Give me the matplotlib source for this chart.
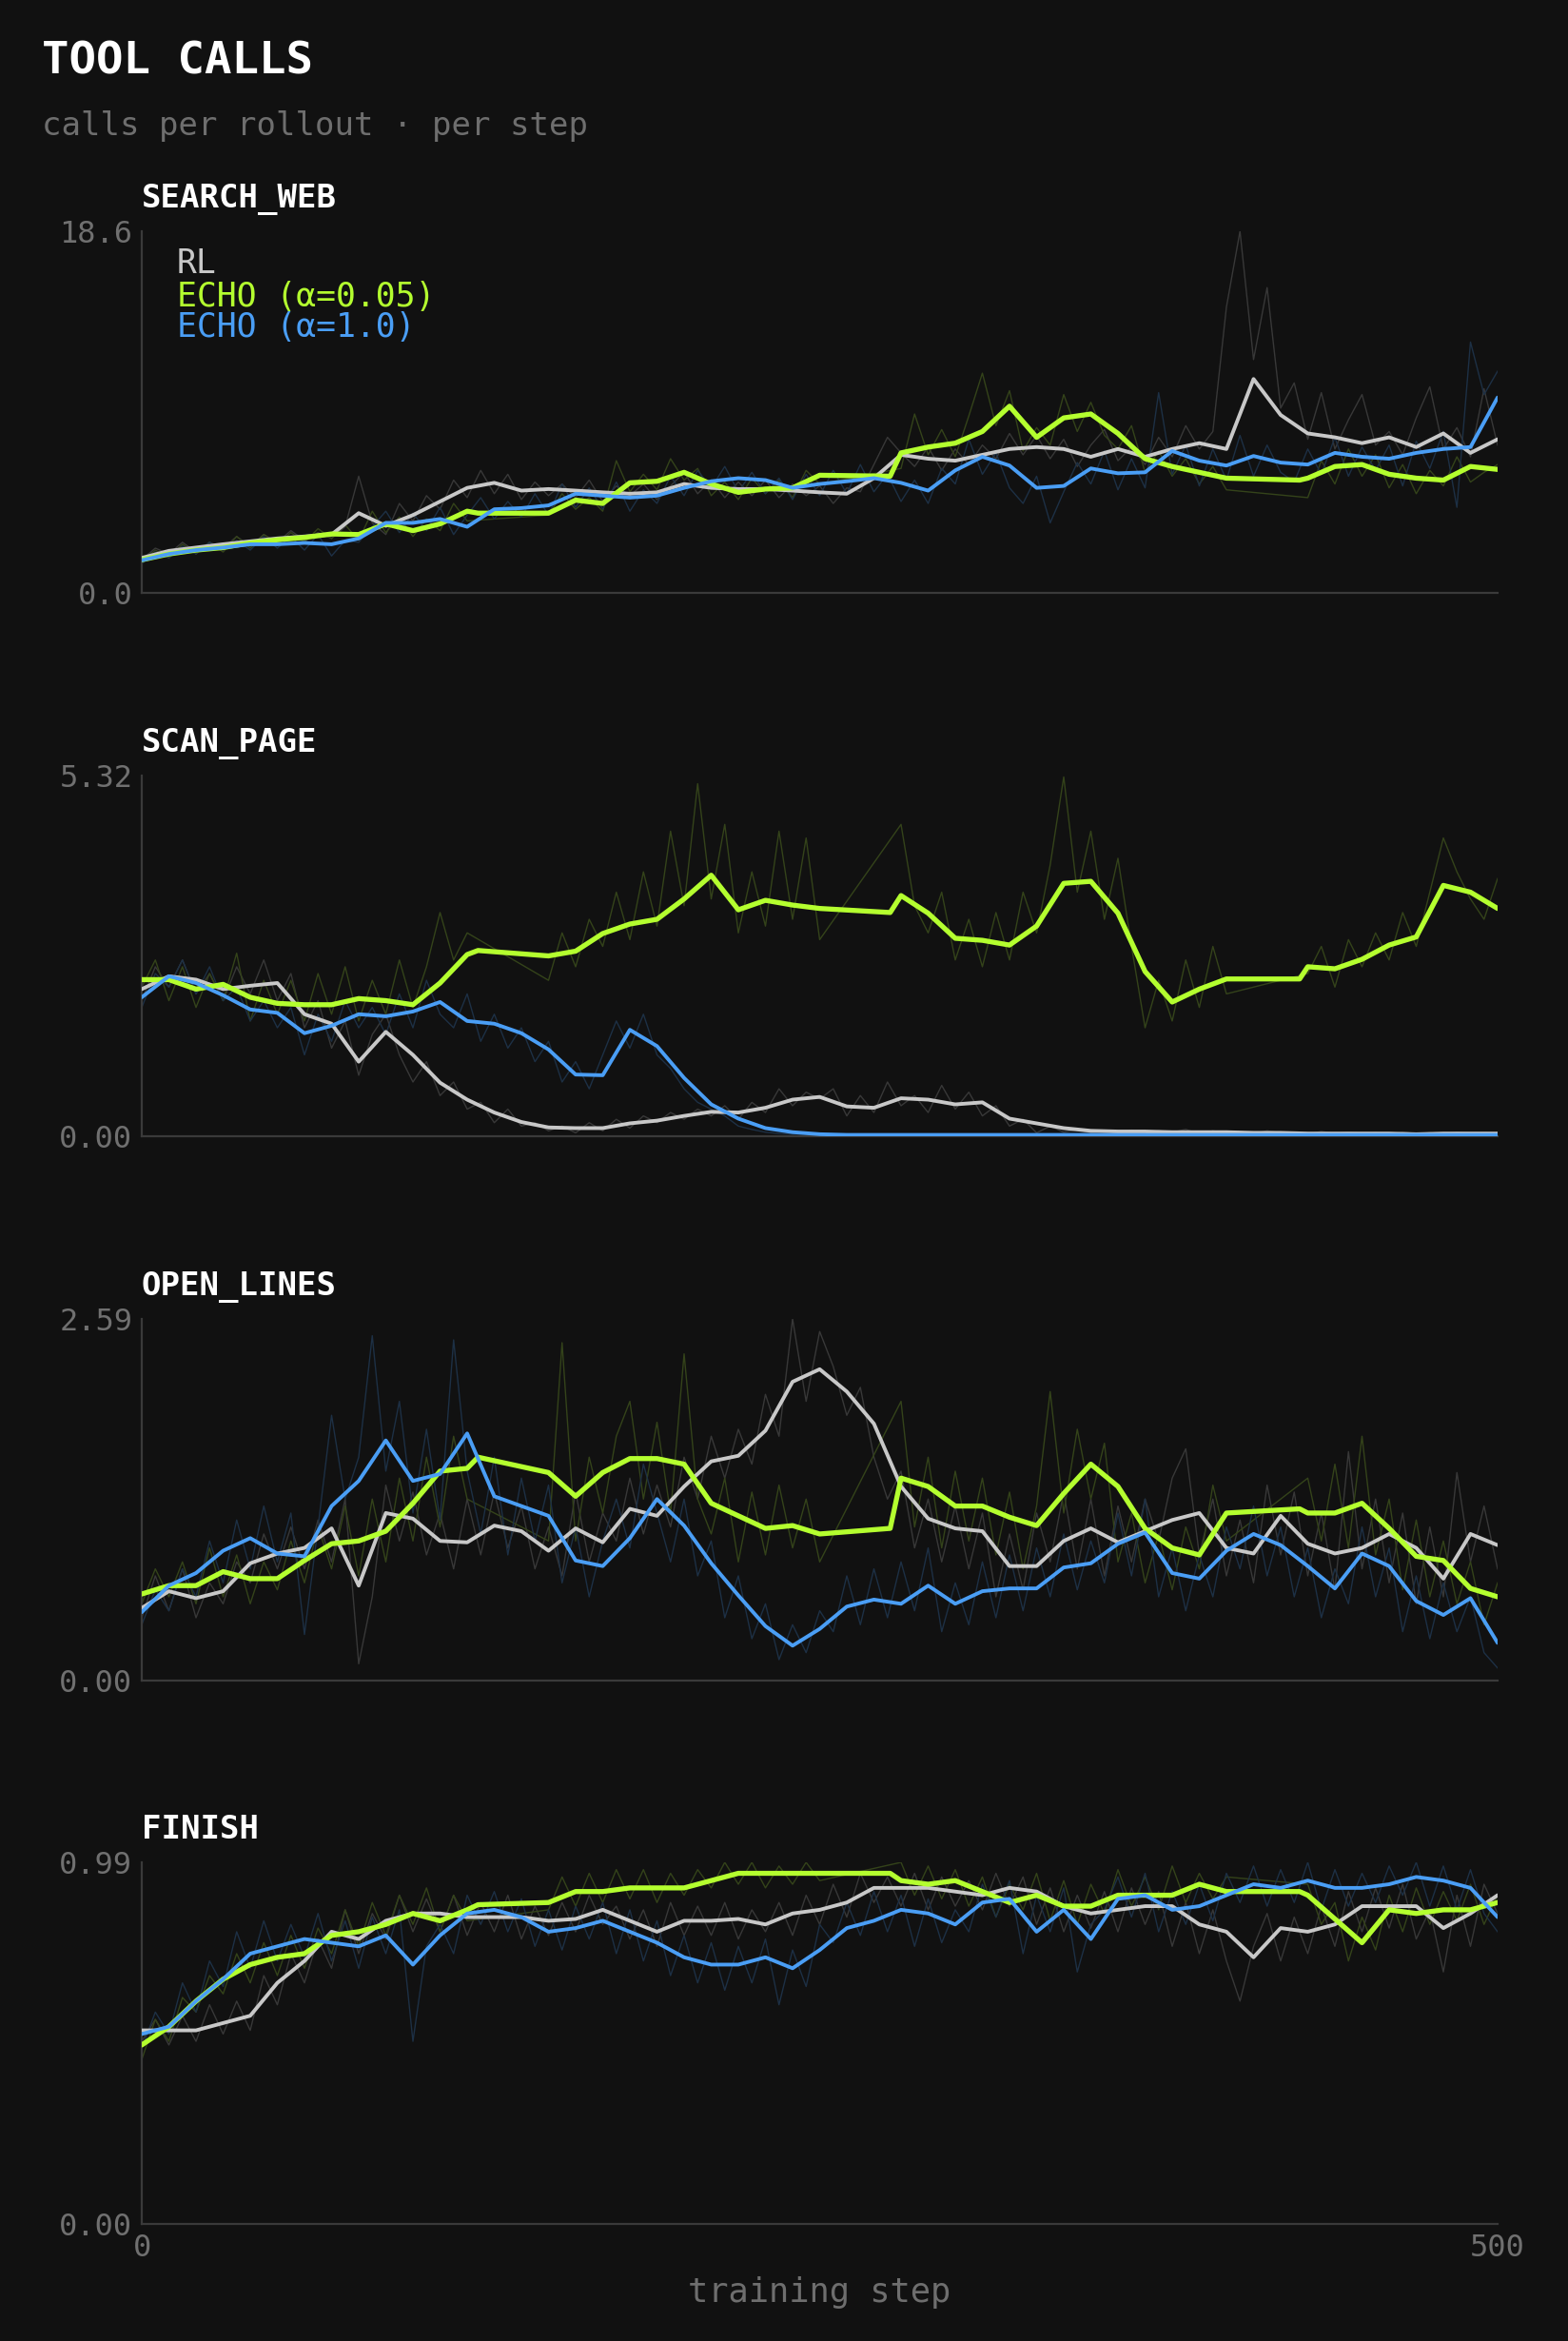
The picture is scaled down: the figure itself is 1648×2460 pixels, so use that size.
import matplotlib
matplotlib.use("Agg")
import matplotlib.pyplot as plt
import numpy as np

nan = np.nan

# x grids (training step)
STEPS = np.arange(0, 501, 10)        # smoothed curves RL / ECHO a=1.0
RAW_STEPS = np.arange(0, 501, 5)     # per-step values (sampled every 5)
# ECHO (a=0.05) is missing some steps, its smoothed curve lives on these
E05_STEPS = [0, 10, 20, 30, 40, 50, 60, 70, 80, 90, 100, 110, 120, 124,
             150, 160, 170, 180, 190, 200, 210, 220, 230, 240, 250, 276,
             280, 290, 300, 310, 320, 330, 340, 350, 360, 370, 380, 390, 400, 427,
             430, 440, 450, 460, 470, 480, 490, 500]

PANELS = ["SEARCH_WEB", "SCAN_PAGE", "OPEN_LINES", "FINISH"]
Y_MAX = [18.6, 5.32, 2.59, 0.99]
Y_LABELS = [["0.0", "18.6"], ["0.00", "5.32"], ["0.00", "2.59"], ["0.00", "0.99"]]
SERIES = ["RL", "ECHO (α=0.05)", "ECHO (α=1.0)"]

# ---- search_web ----
search_rl = [1.8, 2.16, 2.33, 2.5, 2.65, 2.8, 2.9, 3.0, 4.1, 3.45,
             4.0, 4.7, 5.4, 5.66, 5.26, 5.34, 5.26, 5.17, 5.1, 5.17,
             5.6, 5.4, 5.34, 5.34, 5.26, 5.17, 5.1, 5.9, 7.1, 6.9,
             6.8, 7.1, 7.4, 7.5, 7.4, 7.0, 7.4, 7.0, 7.4, 7.7,
             7.4, 11.0, 9.15, 8.2, 8.0, 7.7, 8.0, 7.5, 8.2, 7.2, 7.9]
search_rl_raw = [1.7, 2.3, 2.0, 2.6, 2.1, 2.6, 2.3, 2.9, 2.4, 3.0, 2.6,
                 3.2, 2.7, 3.1, 2.8, 3.4, 6.0, 3.6, 3.0, 4.6, 3.7,
                 5.0, 4.3, 5.8, 4.9, 6.3, 5.1, 6.1, 4.8, 5.7, 5.0,
                 5.6, 4.9, 5.8, 4.7, 5.5, 5.0, 5.6, 4.8, 5.5, 6.2,
                 5.1, 5.8, 4.9, 5.7, 5.0, 5.8, 4.9, 5.6, 5.0, 5.5,
                 4.6, 5.4, 5.2, 6.6, 8.0, 7.2, 6.5, 7.5, 6.3, 7.4,
                 6.6, 7.6, 6.9, 8.2, 7.1, 8.1, 6.9, 7.9, 6.5, 7.6,
                 8.4, 6.8, 7.5, 6.6, 8.0, 7.0, 8.6, 7.4, 8.3, 14.7,
                 18.6, 12.0, 15.7, 9.5, 10.8, 7.9, 10.3, 7.4, 8.9, 10.2,
                 7.6, 8.3, 7.1, 9.0, 10.6, 7.4, 8.5, 7.0, 10.5, 7.6]
search_e05 = [1.7, 2.0, 2.2, 2.33, 2.57, 2.73, 2.85, 3.03, 3.0, 3.55,
              3.2, 3.55, 4.2, 4.1, 4.1, 4.77, 4.6, 5.66, 5.74, 6.2,
              5.6, 5.17, 5.34, 5.4, 6.05, 6.0, 7.2, 7.5, 7.7, 8.3,
              9.6, 8.0, 9.0, 9.2, 8.2, 6.9, 6.5, 6.2, 5.9, 5.8,
              5.9, 6.5, 6.6, 6.1, 5.9, 5.8, 6.5, 6.35]
search_e05_raw = [1.6, 2.2, 1.8, 2.5, 2.0, 2.6, 2.1, 2.9, 2.3, 3.0, 2.5,
                  3.1, 2.6, 3.3, 2.8, 3.5, 2.7, 4.2, 3.1, 3.9, 2.9,
                  3.8, 3.2, 4.6, 3.7, nan, nan, nan, nan, nan, 4.0,
                  5.1, 4.3, 4.9, 4.2, 6.8, 5.2, 6.1, 5.3, 6.9, 5.8,
                  6.4, 5.0, 5.7, 4.8, 5.9, 5.1, 5.8, 4.9, 6.3, 5.6,
                  nan, nan, nan, nan, nan, 6.4, 9.2, 7.1, 8.4, 7.0,
                  9.1, 11.3, 8.6, 10.4, 7.3, 8.5, 7.6, 10.2, 8.3, 9.8,
                  8.1, 7.4, 8.6, 6.2, 7.3, 6.0, 6.9, 5.6, 6.5, 5.3,
                  nan, nan, nan, nan, nan, 4.9, 6.8, 5.6, 7.4, 6.0,
                  7.1, 5.4, 6.6, 5.1, 6.3, 5.5, 7.0, 5.7, 6.2, 6.6]
search_e10 = [1.68, 2.0, 2.2, 2.33, 2.5, 2.5, 2.57, 2.5, 2.8, 3.6,
              3.6, 3.8, 3.4, 4.3, 4.36, 4.5, 5.1, 5.0, 4.9, 5.0,
              5.4, 5.74, 5.9, 5.8, 5.4, 5.6, 5.74, 5.9, 5.66, 5.26,
              6.3, 7.0, 6.55, 5.4, 5.5, 6.4, 6.15, 6.2, 7.3, 6.8,
              6.55, 7.04, 6.7, 6.6, 7.2, 7.0, 6.9, 7.2, 7.4, 7.5, 10.05]
search_e10_raw = [1.5, 2.1, 1.8, 2.4, 2.0, 2.6, 2.2, 2.7, 2.2, 2.9, 2.3,
                  2.9, 2.2, 3.0, 1.9, 2.7, 2.6, 3.4, 4.2, 3.1, 4.1,
                  3.2, 4.4, 3.0, 4.0, 4.9, 3.8, 4.7, 3.9, 5.1, 4.0,
                  5.6, 4.4, 5.4, 4.3, 5.7, 4.2, 5.3, 4.6, 6.0, 5.0,
                  6.3, 5.4, 6.5, 5.2, 6.2, 5.1, 5.9, 4.8, 6.1, 5.0,
                  6.3, 5.1, 6.6, 5.2, 6.1, 4.7, 5.8, 4.6, 6.4, 5.6,
                  7.9, 6.1, 7.2, 5.4, 4.6, 6.0, 3.6, 5.2, 6.7, 5.6,
                  7.3, 5.3, 6.9, 5.4, 10.3, 6.1, 7.6, 5.5, 7.4, 5.8,
                  8.1, 6.0, 7.6, 6.2, 5.7, 7.4, 6.1, 8.0, 6.0, 7.5,
                  6.3, 7.6, 5.5, 7.8, 6.4, 8.3, 4.4, 12.9, 10.2, 11.4]

# ---- scan_page ----
scan_rl = [2.17, 2.36, 2.31, 2.17, 2.22, 2.26, 1.8, 1.66, 1.1, 1.54,
           1.2, 0.79, 0.54, 0.35, 0.21, 0.13, 0.12, 0.12, 0.19, 0.23,
           0.3, 0.36, 0.35, 0.42, 0.54, 0.58, 0.44, 0.42, 0.56, 0.54,
           0.47, 0.5, 0.26, 0.19, 0.12, 0.08, 0.07, 0.07, 0.06, 0.06,
           0.06, 0.05, 0.05, 0.04, 0.04, 0.04, 0.04, 0.03, 0.04, 0.04, 0.04]
scan_rl_raw = [2.0, 2.5, 2.2, 2.6, 2.1, 2.4, 2.0, 2.5, 2.1, 2.6, 2.0,
               2.4, 1.6, 2.0, 1.3, 1.7, 0.9, 1.5, 1.8, 1.2, 0.8,
               1.1, 0.6, 0.8, 0.4, 0.5, 0.2, 0.4, 0.15, 0.2, 0.08,
               0.15, 0.05, 0.2, 0.08, 0.25, 0.12, 0.3, 0.2, 0.35, 0.25,
               0.4, 0.3, 0.45, 0.25, 0.5, 0.35, 0.7, 0.45, 0.65, 0.55,
               0.7, 0.3, 0.6, 0.35, 0.8, 0.45, 0.6, 0.35, 0.75, 0.4,
               0.65, 0.3, 0.45, 0.15, 0.25, 0.05, 0.15, 0.06, 0.1, 0.05,
               0.08, 0.04, 0.09, 0.05, 0.08, 0.06, 0.1, 0.04, 0.08, 0.05,
               0.07, 0.04, 0.08, 0.05, 0.06, 0.03, 0.07, 0.04, 0.06, 0.04,
               0.05, 0.03, 0.06, 0.04, 0.05, 0.03, 0.06, 0.04, 0.05, 0.04]
scan_e05 = [2.31, 2.31, 2.17, 2.24, 2.05, 1.96, 1.94, 1.94, 2.03, 2.0,
            1.94, 2.26, 2.68, 2.74, 2.66, 2.73, 2.99, 3.13, 3.2, 3.5,
            3.85, 3.34, 3.48, 3.41, 3.36, 3.3, 3.55, 3.29, 2.92, 2.89,
            2.82, 3.1, 3.73, 3.76, 3.29, 2.43, 1.98, 2.17, 2.32, 2.32,
            2.5, 2.47, 2.61, 2.82, 2.94, 3.7, 3.6, 3.36]
scan_e05_raw = [2.2, 2.6, 2.0, 2.5, 1.9, 2.4, 2.0, 2.7, 1.7, 2.3, 1.8,
                2.3, 1.7, 2.4, 1.8, 2.5, 1.7, 2.3, 1.8, 2.6, 1.9,
                2.5, 3.3, 2.6, 3.0, nan, nan, nan, nan, nan, 2.3,
                3.0, 2.5, 3.2, 2.8, 3.6, 2.9, 3.9, 3.1, 4.5, 3.4,
                5.2, 3.5, 4.6, 3.0, 3.9, 3.1, 4.5, 3.2, 4.4, 2.9,
                nan, nan, nan, nan, nan, 4.6, 3.4, 3.0, 3.6, 2.6,
                3.2, 2.5, 3.3, 2.6, 3.6, 3.0, 4.0, 5.3, 3.6, 4.5,
                3.2, 4.1, 2.8, 1.6, 2.3, 1.7, 2.6, 1.9, 2.8, 2.1,
                nan, nan, nan, nan, nan, 2.4, 2.8, 2.2, 2.9, 2.5,
                3.0, 2.6, 3.3, 2.8, 3.6, 4.4, 3.9, 3.5, 3.2, 3.8]
scan_e10 = [2.05, 2.36, 2.26, 2.08, 1.87, 1.82, 1.52, 1.63, 1.8, 1.77,
            1.84, 1.98, 1.7, 1.66, 1.52, 1.28, 0.91, 0.9, 1.57, 1.33,
            0.86, 0.47, 0.26, 0.12, 0.06, 0.03, 0.02, 0.02, 0.02, 0.02,
            0.02, 0.02, 0.02, 0.02, 0.02, 0.02, 0.02, 0.02, 0.02, 0.02,
            0.02, 0.02, 0.02, 0.02, 0.02, 0.02, 0.02, 0.02, 0.02, 0.02, 0.02]
scan_e10_raw = [1.9, 2.4, 2.2, 2.6, 2.1, 2.5, 2.0, 2.2, 1.7, 2.0, 1.6,
                1.9, 1.2, 1.8, 1.4, 2.0, 1.6, 1.9, 1.5, 2.1, 1.6,
                2.3, 1.8, 1.6, 2.1, 1.4, 1.8, 1.3, 1.6, 1.1, 1.4,
                0.8, 1.1, 0.7, 1.2, 1.7, 1.3, 1.8, 1.2, 1.0, 0.7,
                0.5, 0.4, 0.3, 0.15, 0.1, 0.06, 0.04, 0.03, 0.03, 0.02,
                0.02, 0.03, 0.02, 0.02, 0.03, 0.02, 0.02, 0.03, 0.02, 0.02,
                0.03, 0.02, 0.02, 0.03, 0.02, 0.02, 0.03, 0.02, 0.02, 0.03,
                0.02, 0.02, 0.03, 0.02, 0.02, 0.03, 0.02, 0.02, 0.03, 0.02,
                0.02, 0.03, 0.02, 0.02, 0.03, 0.02, 0.02, 0.03, 0.02, 0.02,
                0.03, 0.02, 0.02, 0.03, 0.02, 0.02, 0.03, 0.02, 0.02, 0.02]

# ---- open_lines ----
open_rl = [0.52, 0.64, 0.59, 0.64, 0.84, 0.91, 0.95, 1.09, 0.68, 1.2,
           1.16, 1.0, 0.99, 1.11, 1.07, 0.93, 1.09, 0.99, 1.23, 1.18,
           1.39, 1.57, 1.61, 1.79, 2.14, 2.23, 2.07, 1.84, 1.39, 1.16,
           1.09, 1.07, 0.82, 0.82, 1.0, 1.09, 0.99, 1.07, 1.15, 1.2,
           0.95, 0.91, 1.18, 0.98, 0.91, 0.95, 1.05, 0.95, 0.73, 1.05, 0.97]
open_rl_raw = [0.45, 0.75, 0.5, 0.8, 0.45, 0.7, 0.55, 0.85, 0.7, 1.05, 0.8,
               1.1, 0.8, 1.15, 0.85, 1.3, 0.12, 0.6, 1.4, 1.0, 1.35,
               0.9, 1.2, 0.8, 1.3, 0.9, 1.35, 0.95, 1.25, 0.8, 1.1,
               0.75, 1.35, 0.85, 1.2, 1.0, 1.45, 1.05, 1.4, 1.1, 1.6,
               1.3, 1.75, 1.45, 1.8, 1.55, 2.05, 1.75, 2.59, 2.0, 2.5,
               2.25, 1.9, 2.1, 1.6, 1.3, 1.5, 0.95, 1.3, 0.85, 1.25,
               0.8, 1.2, 0.6, 1.05, 0.65, 1.2, 0.85, 1.35, 0.8, 1.3,
               0.75, 1.25, 0.85, 1.3, 1.0, 1.45, 1.66, 0.9, 1.3, 0.75,
               1.15, 0.7, 1.4, 0.9, 1.35, 0.75, 1.2, 0.65, 1.64, 0.8,
               1.3, 0.7, 1.2, 0.55, 1.1, 0.6, 1.49, 0.85, 1.25, 0.8]
open_e05 = [0.62, 0.68, 0.68, 0.78, 0.73, 0.73, 0.86, 0.98, 1.0, 1.07,
            1.27, 1.5, 1.52, 1.6, 1.49, 1.32, 1.49, 1.59, 1.59, 1.55,
            1.27, 1.18, 1.09, 1.11, 1.05, 1.09, 1.45, 1.39, 1.25, 1.25,
            1.17, 1.11, 1.34, 1.55, 1.39, 1.09, 0.95, 0.9, 1.2, 1.23,
            1.2, 1.2, 1.27, 1.09, 0.89, 0.86, 0.66, 0.6]
open_e05_raw = [0.55, 0.8, 0.6, 0.85, 0.55, 0.95, 0.6, 0.9, 0.55, 0.85, 0.65,
                1.0, 0.7, 1.1, 0.8, 1.25, 0.75, 1.3, 0.85, 1.45, 1.0,
                1.6, 1.1, 1.75, 1.3, nan, nan, nan, nan, nan, 1.0,
                2.42, 1.0, 1.6, 1.2, 1.75, 2.0, 1.3, 1.85, 1.2, 2.34,
                1.3, 1.05, 1.45, 0.85, 1.35, 0.9, 1.4, 0.95, 1.3, 0.85,
                nan, nan, nan, nan, nan, 2.0, 1.1, 1.6, 0.95, 1.5,
                1.0, 1.45, 0.9, 1.35, 0.8, 1.25, 2.07, 1.2, 1.8, 1.3,
                1.7, 0.85, 1.2, 0.7, 1.05, 0.65, 1.1, 0.8, 1.4, 1.0,
                nan, nan, nan, nan, nan, 1.45, 1.0, 1.55, 0.95, 1.75,
                0.9, 1.3, 0.65, 1.15, 0.6, 1.0, 0.55, 0.85, 0.4, 0.7]
open_e10 = [0.49, 0.68, 0.77, 0.93, 1.02, 0.91, 0.89, 1.25, 1.43, 1.72,
            1.43, 1.48, 1.77, 1.32, 1.25, 1.18, 0.86, 0.82, 1.02, 1.3,
            1.11, 0.84, 0.61, 0.39, 0.25, 0.37, 0.53, 0.58, 0.55, 0.68,
            0.55, 0.64, 0.66, 0.66, 0.81, 0.84, 0.98, 1.06, 0.77, 0.73,
            0.93, 1.05, 0.97, 0.82, 0.66, 0.91, 0.82, 0.57, 0.47, 0.59, 0.27]
open_e10_raw = [0.4, 0.65, 0.5, 0.8, 0.6, 1.0, 0.7, 1.15, 0.8, 1.25, 0.85,
                1.2, 0.33, 1.1, 1.9, 1.3, 1.6, 2.47, 1.5, 2.0, 1.2,
                1.8, 1.15, 2.44, 1.5, 1.05, 1.6, 0.9, 1.45, 1.0, 1.4,
                0.7, 1.1, 0.6, 1.0, 1.3, 0.95, 1.55, 1.2, 0.85, 1.3,
                0.75, 1.0, 0.45, 0.75, 0.3, 0.55, 0.15, 0.4, 0.2, 0.5,
                0.35, 0.75, 0.4, 0.8, 0.45, 0.85, 0.5, 0.95, 0.35, 0.7,
                0.4, 0.85, 0.45, 0.9, 0.5, 0.95, 0.6, 1.05, 0.65, 1.0,
                0.7, 1.2, 0.75, 1.3, 0.6, 0.95, 0.5, 0.9, 0.6, 1.1,
                0.8, 1.25, 0.75, 1.1, 0.6, 0.95, 0.45, 0.8, 0.55, 1.1,
                0.6, 0.95, 0.35, 0.75, 0.3, 0.7, 0.35, 0.6, 0.2, 0.09]

# ---- finish ----
finish_rl = [0.53, 0.53, 0.53, 0.55, 0.57, 0.66, 0.72, 0.8, 0.78, 0.83,
             0.85, 0.85, 0.84, 0.84, 0.84, 0.83, 0.835, 0.86, 0.83, 0.8,
             0.83, 0.83, 0.835, 0.82, 0.85, 0.86, 0.88, 0.92, 0.92, 0.92,
             0.91, 0.9, 0.92, 0.91, 0.87, 0.85, 0.86, 0.87, 0.87, 0.82,
             0.8, 0.73, 0.81, 0.8, 0.82, 0.87, 0.87, 0.87, 0.81, 0.85, 0.9]
finish_rl_raw = [0.5, 0.56, 0.49, 0.57, 0.5, 0.6, 0.52, 0.61, 0.53, 0.68, 0.6,
                 0.74, 0.66, 0.78, 0.7, 0.86, 0.74, 0.85, 0.78, 0.9, 0.8,
                 0.89, 0.8, 0.9, 0.79, 0.88, 0.8, 0.9, 0.78, 0.87, 0.79,
                 0.88, 0.8, 0.9, 0.82, 0.87, 0.78, 0.86, 0.76, 0.88, 0.79,
                 0.87, 0.79, 0.88, 0.78, 0.86, 0.8, 0.88, 0.79, 0.9, 0.82,
                 0.93, 0.84, 0.96, 0.88, 0.95, 0.87, 0.96, 0.86, 0.95, 0.87,
                 0.94, 0.86, 0.96, 0.87, 0.95, 0.82, 0.92, 0.8, 0.9, 0.81,
                 0.91, 0.8, 0.92, 0.82, 0.91, 0.76, 0.88, 0.74, 0.86, 0.72,
                 0.61, 0.76, 0.85, 0.72, 0.84, 0.74, 0.87, 0.76, 0.91, 0.8,
                 0.92, 0.81, 0.93, 0.78, 0.86, 0.69, 0.9, 0.76, 0.93, 0.85]
finish_e05 = [0.49, 0.54, 0.61, 0.67, 0.71, 0.73, 0.74, 0.79, 0.8, 0.82,
              0.85, 0.83, 0.86, 0.874, 0.88, 0.91, 0.91, 0.92, 0.92, 0.92,
              0.94, 0.96, 0.96, 0.96, 0.96, 0.96, 0.94, 0.93, 0.94, 0.91,
              0.88, 0.9, 0.87, 0.87, 0.9, 0.9, 0.9, 0.93, 0.91, 0.91,
              0.9, 0.835, 0.77, 0.86, 0.85, 0.86, 0.86, 0.88]
finish_e05_raw = [0.45, 0.56, 0.5, 0.62, 0.58, 0.68, 0.63, 0.74, 0.66, 0.77, 0.68,
                  0.79, 0.7, 0.81, 0.74, 0.86, 0.76, 0.88, 0.79, 0.9, 0.82,
                  0.92, 0.8, 0.9, 0.83, nan, nan, nan, nan, nan, 0.86,
                  0.95, 0.87, 0.96, 0.88, 0.97, 0.89, 0.97, 0.88, 0.96, 0.9,
                  0.97, 0.92, 0.99, 0.93, 0.99, 0.92, 0.98, 0.93, 0.99, 0.94,
                  nan, nan, nan, nan, nan, 0.99, 0.9, 0.98, 0.89, 0.97,
                  0.87, 0.95, 0.84, 0.93, 0.86, 0.96, 0.83, 0.94, 0.82, 0.93,
                  0.85, 0.97, 0.87, 0.95, 0.86, 0.98, 0.88, 0.96, 0.89, 0.95,
                  nan, nan, nan, nan, nan, 0.93, 0.82, 0.88, 0.72, 0.84,
                  0.75, 0.9, 0.8, 0.92, 0.82, 0.91, 0.83, 0.93, 0.82, 0.9]
finish_e10 = [0.52, 0.54, 0.61, 0.67, 0.74, 0.76, 0.78, 0.77, 0.76, 0.79,
              0.71, 0.79, 0.85, 0.86, 0.84, 0.8, 0.81, 0.83, 0.8, 0.77,
              0.73, 0.71, 0.71, 0.73, 0.7, 0.75, 0.81, 0.83, 0.86, 0.85,
              0.82, 0.88, 0.89, 0.8, 0.86, 0.78, 0.89, 0.9, 0.86, 0.87,
              0.9, 0.93, 0.92, 0.94, 0.92, 0.92, 0.93, 0.95, 0.94, 0.92, 0.84]
finish_e10_raw = [0.48, 0.58, 0.52, 0.66, 0.58, 0.72, 0.65, 0.8, 0.7, 0.83, 0.72,
                  0.82, 0.73, 0.85, 0.72, 0.83, 0.7, 0.84, 0.74, 0.86, 0.5,
                  0.76, 0.82, 0.74, 0.9, 0.82, 0.91, 0.8, 0.89, 0.76, 0.86,
                  0.75, 0.87, 0.78, 0.88, 0.74, 0.86, 0.72, 0.83, 0.68, 0.79,
                  0.66, 0.77, 0.64, 0.76, 0.66, 0.78, 0.6, 0.75, 0.65, 0.82,
                  0.77, 0.88, 0.79, 0.91, 0.8, 0.9, 0.76, 0.89, 0.77, 0.86,
                  0.8, 0.93, 0.84, 0.94, 0.74, 0.9, 0.8, 0.92, 0.69, 0.82,
                  0.86, 0.95, 0.84, 0.96, 0.8, 0.91, 0.82, 0.93, 0.83, 0.96,
                  0.88, 0.98, 0.87, 0.97, 0.88, 0.99, 0.86, 0.97, 0.87, 0.96,
                  0.88, 0.98, 0.9, 0.99, 0.87, 0.98, 0.86, 0.97, 0.85, 0.8]

smooth = [(search_rl, search_e05, search_e10), (scan_rl, scan_e05, scan_e10),
          (open_rl, open_e05, open_e10), (finish_rl, finish_e05, finish_e10)]
raw = [(search_rl_raw, search_e05_raw, search_e10_raw), (scan_rl_raw, scan_e05_raw, scan_e10_raw),
       (open_rl_raw, open_e05_raw, open_e10_raw), (finish_rl_raw, finish_e05_raw, finish_e10_raw)]

# styling
BG = "#111111"
COLORS = ["#c8c8c8", "#b4ff2f", "#4a9ef5"]
RAW_COLORS = ["#383838", "#34431a", "#1d3045"]
WIDTHS = [2.8, 3.8, 2.8]
TICK_C = "#707070"
SPINE_C = "#3a3a3a"

plt.rcParams['font.family'] = ['DejaVu Sans Mono']

W, H = 1648, 2460
fig = plt.figure(figsize=(W / 100, H / 100), dpi=100, facecolor=BG)

def fx(px):
    return px / W

def fy(py):
    return 1 - py / H

ax_left, ax_right = 149, 1574
tops = [243, 815, 1386, 1957]
bottoms = [623, 1194, 1766, 2337]

fig.text(fx(44), fy(78), "TOOL CALLS", color="white", fontsize=34, fontweight="bold", va="baseline")
fig.text(fx(44), fy(142), "calls per rollout · per step", color="#6e6e6e", fontsize=24.5, va="baseline")

for i, name in enumerate(PANELS):
    ax = fig.add_axes([fx(ax_left), fy(bottoms[i]), (ax_right - ax_left) / W,
                       (bottoms[i] - tops[i]) / H])
    ax.set_facecolor(BG)

    # faint per-step values first
    for k in range(3):
        y = np.array(raw[i][k], dtype=float)
        m = ~np.isnan(y)
        ax.plot(RAW_STEPS[m], y[m], color=RAW_COLORS[k], lw=1.0, zorder=1)
    # smoothed curves on top: RL, ECHO 1.0, ECHO 0.05
    for k in [0, 2, 1]:
        xs = E05_STEPS if k == 1 else STEPS
        ax.plot(xs, smooth[i][k], color=COLORS[k], lw=WIDTHS[k], zorder=3 + k,
                solid_joinstyle="round", solid_capstyle="round")

    ax.set_xlim(0, 500)
    ax.set_ylim(0, Y_MAX[i])
    for s in ["top", "right"]:
        ax.spines[s].set_visible(False)
    for s in ["left", "bottom"]:
        ax.spines[s].set_color(SPINE_C)
        ax.spines[s].set_linewidth(1.6)
    ax.set_yticks([0, Y_MAX[i]])
    ax.set_yticklabels(Y_LABELS[i])
    ax.tick_params(axis="y", length=0, pad=7, labelsize=23, labelcolor=TICK_C)
    if i == 3:
        ax.set_xticks([0, 500])
        ax.set_xticklabels(["0", "500"])
        ax.tick_params(axis="x", length=0, pad=7, labelsize=23, labelcolor=TICK_C)
        ax.set_xlabel("training step", color="#6e6e6e", fontsize=25.5, labelpad=10)
    else:
        ax.set_xticks([])

    fig.text(fx(149), fy(tops[i] - 25), name, color="white", fontsize=24.5,
             fontweight="bold", va="baseline")

# legend as coloured text in the first panel
for k, yb in enumerate([287, 322, 354]):
    fig.text(fx(186), fy(yb), SERIES[k], color=COLORS[k], fontsize=25, va="baseline")

fig.savefig("out.png", dpi=100, facecolor=BG)
